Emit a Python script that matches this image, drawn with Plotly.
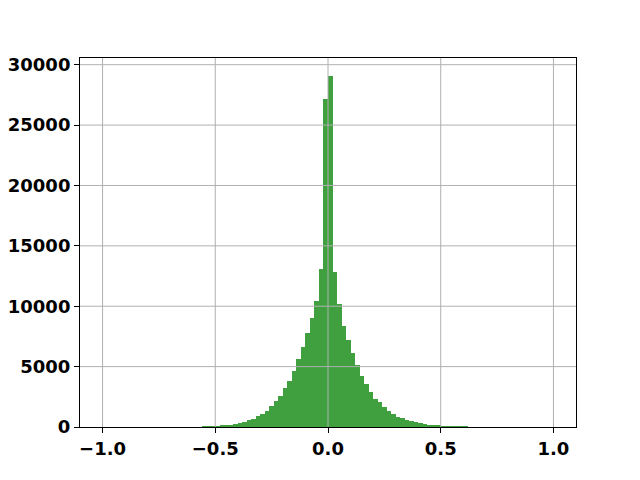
import numpy as np
import plotly.graph_objects as go

# left edges of the histogram bins (width 0.02)
bin_width = 0.02
bin_left = np.round(np.arange(-0.56, 0.6001, bin_width), 2)

counts = [
    35, 40, 45, 60, 120, 140, 160, 230, 340, 450,
    600, 680, 880, 1080, 1320, 1720, 2150, 2560, 3210, 3800,
    4620, 5620, 6590, 7800, 9000, 10400, 13050, 27200,
    29100, 12850, 10200, 8400, 7200, 6100, 5100, 4260, 3600, 2860,
    2280, 2035, 1620, 1290, 1045, 850, 715, 550, 470, 385,
    300, 220, 200, 140, 120, 60, 50, 45, 40, 35, 30,
]

x_ticks = [-1.0, -0.5, 0.0, 0.5, 1.0]
y_ticks = [0, 5000, 10000, 15000, 20000, 25000, 30000]

fig = go.Figure()
fig.add_trace(go.Bar(
    x=bin_left,
    y=counts,
    width=bin_width,
    offset=0,
    marker=dict(color="#008000", opacity=0.75, line=dict(width=0)),
))

# grid drawn on top of the bars, like matplotlib does
grid = dict(color="#b0b0b0", width=1)
for v in x_ticks:
    fig.add_shape(type="line", xref="x", yref="paper", x0=v, x1=v, y0=0, y1=1,
                  line=grid, layer="above")
for v in y_ticks[1:]:
    fig.add_shape(type="line", xref="paper", yref="y", x0=0, x1=1, y0=v, y1=v,
                  line=grid, layer="above")

tickfont = dict(family="DejaVu Sans", size=18, color="black", weight="bold")
axis_style = dict(
    showline=True, mirror=True, linecolor="black", linewidth=1,
    showgrid=False, layer="above traces",
    ticks="outside", ticklen=5, tickwidth=1, tickcolor="black",
    tickfont=tickfont, zeroline=False, automargin=False,
)

# page body adds 8px around the figure, so the figure is 8px smaller
fig.update_layout(
    width=632, height=472,
    margin=dict(l=72, r=64, t=50, b=53),
    plot_bgcolor="white", paper_bgcolor="white",
    showlegend=False, bargap=0,
    xaxis=dict(range=[-1.1, 1.1], tickvals=x_ticks, tickformat=".1f", **axis_style),
    yaxis=dict(range=[0, 30555], tickvals=y_ticks, tickformat="d", **axis_style),
)

fig.write_html("out.html")
